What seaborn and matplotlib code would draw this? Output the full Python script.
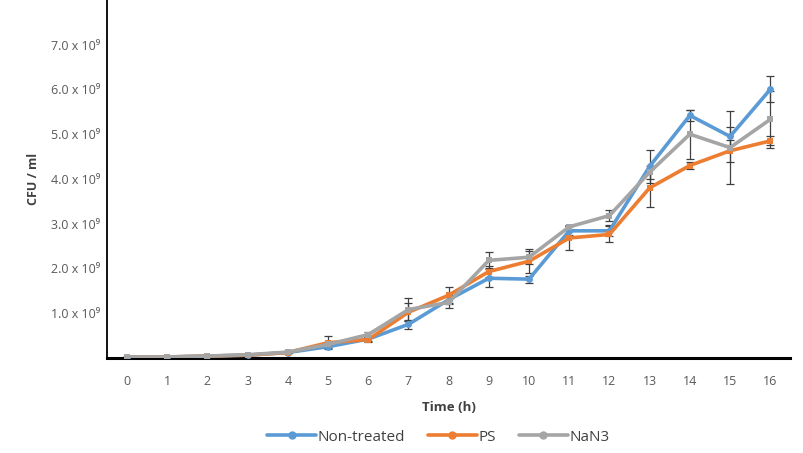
import pandas as pd
import numpy as np
import matplotlib
matplotlib.use('Agg')
import matplotlib.pyplot as plt
import seaborn as sns

# Data (CFU/ml, in units of 1e9)
hours = list(range(17))
non_treated = [0.02, 0.02, 0.04, 0.06, 0.12, 0.25, 0.42, 0.75, 1.30, 1.78, 1.76, 2.84, 2.84, 4.28, 5.42, 4.95, 6.00]
ps = [0.02, 0.02, 0.04, 0.06, 0.12, 0.34, 0.41, 1.02, 1.40, 1.93, 2.16, 2.68, 2.76, 3.80, 4.30, 4.63, 4.85]
nan3 = [0.02, 0.02, 0.04, 0.07, 0.13, 0.30, 0.52, 1.08, 1.24, 2.18, 2.25, 2.93, 3.18, 4.15, 5.00, 4.70, 5.33]
err_non_treated = [0, 0, 0, 0.01, 0.02, 0.04, 0.04, 0.10, 0.10, 0.20, 0.08, 0.10, 0.12, 0.36, 0.12, 0.20, 0.29]
err_ps = [0, 0, 0, 0.01, 0.02, 0.15, 0.05, 0.20, 0.18, 0.12, 0.27, 0.27, 0.18, 0.42, 0.08, 0.25, 0.10]
err_nan3 = [0, 0, 0, 0.01, 0.02, 0.05, 0.05, 0.25, 0.13, 0.18, 0.15, 0.05, 0.13, 0.15, 0.55, 0.82, 0.64]
series_names = ['Non-treated', 'PS', 'NaN3']
colors = ['#5B9BD5', '#ED7D31', '#A5A5A5']
y_ticks = [1, 2, 3, 4, 5, 6, 7]

sns.set_style('white')
plt.rcParams['font.family'] = ['Open Sans', 'DejaVu Sans']

df = pd.DataFrame({
    'hour': hours * 3,
    'cfu': non_treated + ps + nan3,
    'group': sum([[n] * len(hours) for n in series_names], []),
})

fig = plt.figure(figsize=(8.04, 4.53), dpi=100)
ax = fig.add_axes([0.133, 0.21, 0.85, 0.79])

# error bars first, lines on top
for vals, errs, c in zip([non_treated, ps, nan3], [err_non_treated, err_ps, err_nan3], colors):
    ax.errorbar(hours, vals, yerr=errs, fmt='none', ecolor='#404040', elinewidth=0.9, capsize=3, capthick=0.9, zorder=1)

sns.lineplot(data=df, x='hour', y='cfu', hue='group', palette=colors, hue_order=series_names,
             style='group', markers=['o', 's', 's'], dashes=False, markersize=5, linewidth=2.6,
             markeredgewidth=0, ax=ax, zorder=3, legend=False)

ax.set_xlim(-0.5, 16.5)
ax.set_ylim(0, 8)
ax.set_xticks(hours)
ax.set_xticklabels([str(h) for h in hours], color='#595959', fontsize=9)
ax.set_yticks(y_ticks)
ax.set_yticklabels([f'{v:.1f} x 10\u2079' for v in y_ticks], color='#595959', fontsize=9)
ax.tick_params(axis='x', length=0, pad=12)
ax.tick_params(axis='y', length=0, pad=5)

for s in ['top', 'right']:
    ax.spines[s].set_visible(False)
ax.spines['left'].set_color('black')
ax.spines['left'].set_linewidth(1.3)
ax.spines['bottom'].set_color('black')
ax.spines['bottom'].set_linewidth(2.2)

ax.set_xlabel('Time (h)', fontsize=9.5, fontweight='bold', color='#404040', labelpad=10)
ax.set_ylabel('CFU / ml', fontsize=9, fontweight='bold', color='#404040', labelpad=8)

handles = [plt.Line2D([], [], color=c, marker='o', markersize=5, linewidth=2.6) for c in colors]
fig.legend(handles, series_names, loc='lower center', bbox_to_anchor=(0.545, -0.012), ncol=3,
           frameon=False, fontsize=11, handlelength=3.2, handletextpad=0.1, columnspacing=1.5,
           labelcolor='#404040')

fig.savefig('out.png', dpi=100)
